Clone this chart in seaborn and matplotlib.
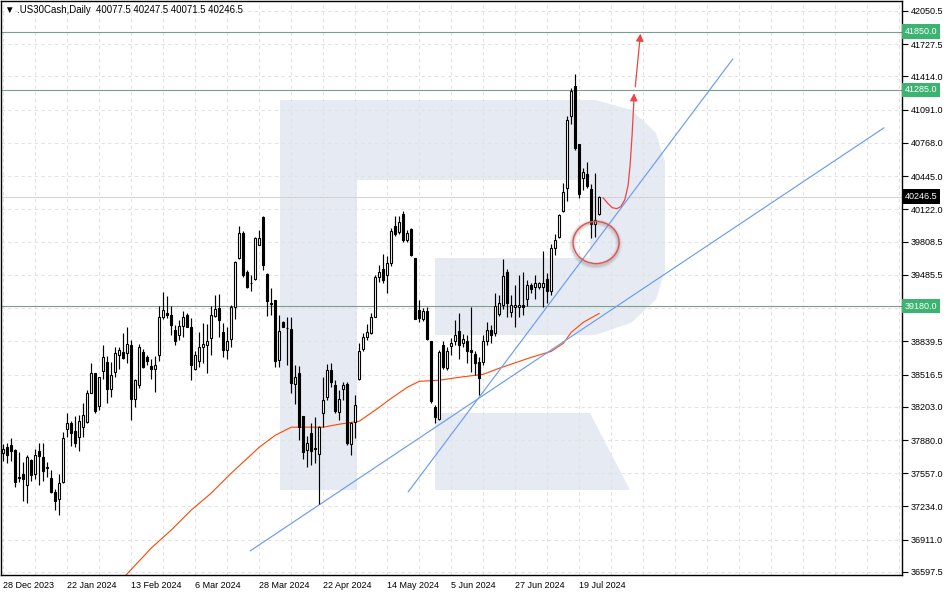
import numpy as np
import pandas as pd
import matplotlib
matplotlib.use('Agg')
import matplotlib.pyplot as plt
import matplotlib.transforms as mtransforms
from matplotlib.patches import Ellipse, Polygon, Rectangle
import seaborn as sns

# daily OHLC, .US30Cash, 28 Dec 2023 .. 26 Jul 2024
opens = [37753, 37811, 37830, 37782, 37520, 37549, 37442, 37685, 37549, 37772,
         37714, 37607, 37510, 37375, 37307, 37472, 37986, 38044, 37966, 37908,
         38005, 38054, 38335, 38529, 38209, 38548, 38636, 38374, 38539, 38704,
         38733, 38723, 38801, 38277, 38413, 38733, 38684, 38597, 38568, 38704,
         39072, 39111, 39092, 38946, 38898, 38985, 39092, 38975, 38568, 38645,
         38781, 38801, 38869, 39082, 39159, 38927, 38752, 38859, 39169, 39654,
         39897, 39518, 39402, 39441, 39780, 40052, 39489, 39208, 39237, 38655,
         39024, 38966, 38956, 38422, 38529, 38112, 37782, 37947, 37802, 37743,
         38141, 38296, 38558, 38413, 38151, 38374, 38422, 37840, 38054, 38471,
         38762, 38878, 38917, 39072, 39460, 39547, 39480, 39596, 39965, 39906,
         40081, 39829, 39936, 39654, 39140, 39053, 39130, 38839, 38199, 38083,
         38801, 38577, 38791, 38839, 38936, 38820, 38839, 38752, 38713, 38636,
         38636, 38839, 38946, 38917, 39101, 39189, 39518, 39121, 39169, 39169,
         39189, 39247, 39383, 39363, 39363, 39363, 39450, 39324, 39751, 39858,
         40110, 40333, 41032, 41323, 40760, 40430, 40469, 40323, 39984, 40077.5]
highs = [37840, 37850, 37898, 37792, 37763, 37666, 37734, 37695, 37792, 37850,
         37850, 37666, 37588, 37404, 37549, 37957, 38141, 38063, 38112, 38122,
         38238, 38364, 38626, 38529, 38490, 38801, 38694, 38636, 38781, 38781,
         38917, 38975, 38849, 38471, 38810, 38762, 38704, 38665, 38694, 39179,
         39315, 39276, 39179, 38995, 39043, 39130, 39111, 39063, 38742, 38927,
         39014, 39004, 39179, 39286, 39295, 39014, 38975, 39189, 39625, 39965,
         39916, 39528, 39480, 39858, 39926, 40062, 39499, 39353, 39237, 39092,
         39034, 39072, 39072, 38607, 38597, 38112, 37918, 38044, 38102, 38015,
         38490, 38616, 38626, 38461, 38364, 38442, 38442, 38054, 38316, 38820,
         38917, 39004, 39111, 39480, 39577, 39693, 39664, 39945, 40062, 40062,
         40110, 39926, 39945, 39654, 39237, 39159, 39169, 38839, 38219, 38752,
         38839, 38781, 38869, 39043, 39111, 38907, 38898, 39169, 38742, 38684,
         38898, 39024, 38995, 39305, 39286, 39635, 39538, 39286, 39383, 39480,
         39509, 39431, 39402, 39480, 39412, 39722, 39499, 39790, 39887, 40081,
         40382, 41032, 41303, 41439, 40760, 40527, 40585, 40372, 40479, 40247.5]
lows = [37675, 37656, 37675, 37423, 37472, 37287, 37268, 37481, 37501, 37442,
        37481, 37520, 37365, 37200, 37152, 37462, 37908, 37821, 37811, 37772,
        37908, 38044, 38335, 38141, 38170, 38471, 38238, 38296, 38490, 38568,
        38665, 38626, 38073, 38199, 38383, 38577, 38607, 38471, 38345, 38645,
        39053, 39062, 38898, 38801, 38849, 38878, 38975, 38461, 38558, 38587,
        38626, 38529, 38704, 39072, 38878, 38684, 38665, 38781, 39053, 39635,
        39460, 39353, 39324, 39431, 39771, 39528, 39082, 39092, 38587, 38587,
        38975, 38607, 38335, 38228, 37879, 37695, 37617, 37637, 37656, 37258,
        38005, 38267, 38393, 38141, 38073, 38267, 37831, 37734, 37898, 38461,
        38742, 38849, 38907, 39072, 39412, 39402, 39305, 39567, 39868, 39887,
        39809, 39809, 39664, 39053, 39024, 39034, 38849, 38238, 38044, 38073,
        38568, 38558, 38704, 38801, 38665, 38781, 38626, 38539, 38510, 38316,
        38607, 38801, 38820, 38888, 39082, 39150, 39072, 39072, 38975, 39072,
        39092, 39179, 39305, 39247, 39344, 39169, 39208, 39286, 39674, 39848,
        40100, 40207, 40954, 40702, 40236, 40314, 40333, 39848, 39858, 40071.5]
closes = [37792, 37734, 37772, 37472, 37510, 37501, 37714, 37540, 37734, 37724,
          37578, 37612, 37375, 37287, 37462, 37898, 38044, 37947, 37850, 38063,
          38122, 38335, 38529, 38160, 38490, 38684, 38374, 38510, 38723, 38752,
          38674, 38810, 38277, 38461, 38781, 38587, 38645, 38568, 38607, 39072,
          39140, 39092, 38995, 38839, 38985, 39072, 38975, 38607, 38704, 38781,
          38810, 38839, 39092, 39150, 39043, 38752, 38839, 39169, 39615, 39897,
          39480, 39363, 39407, 39848, 39848, 39577, 39227, 39198, 38645, 38936,
          38975, 38970, 38432, 38490, 38005, 37763, 37850, 37772, 37797, 38005,
          38267, 38558, 38442, 38160, 38277, 38413, 37850, 38044, 38219, 38742,
          38878, 38927, 39072, 39460, 39518, 39431, 39596, 39916, 39887, 40003,
          39829, 39897, 39674, 39053, 39063, 39130, 38859, 38257, 38102, 38733,
          38587, 38742, 38820, 38898, 38801, 38859, 38742, 38733, 38626, 38480,
          38839, 38946, 38898, 39179, 39208, 39470, 39208, 39189, 39189, 39189,
          39169, 39383, 39344, 39402, 39402, 39402, 39324, 39751, 39829, 40071,
          40294, 40993, 41274, 40721, 40275, 40488, 40352, 39984, 40023, 40246.5]

# moving average (orange line), sampled along its course
ma_bar = [30, 37, 42, 47, 52, 57, 64, 68, 72, 76, 80, 84, 89, 94, 97, 101, 104,
          109, 114, 120, 124, 132, 137, 140, 142, 145, 149]
ma_val = [36540, 36831, 37006, 37200, 37365, 37559, 37811, 37927, 38005, 38005,
          38005, 38034, 38063, 38199, 38286, 38393, 38451, 38461, 38490, 38519,
          38578, 38684, 38742, 38820, 38927, 39024, 39111]

# trend lines
trend1_bar = [101.2, 182.4]
trend1_val = [37375, 41584]
trend2_bar = [61.7, 220.2]
trend2_val = [36802, 40915]

# horizontal levels and last price
levels = [41850.0, 41285.0, 39180.0]
last_price = 40246.5

# forecast path (red) and second arrow
path_bar = [149.9, 151.2, 152.2, 153.4, 154.4, 155.4, 156.2, 156.7, 157.2, 157.6]
path_val = [40236, 40178, 40139, 40129, 40149, 40217, 40353, 40547, 40838, 41138]
tip1 = (157.7, 41250)
arrow2_from = (158.0, 41313)
arrow2_to = (159.3, 41830)

# circled zone
circle_center = (148.2, 39800)

ytick_vals = [42050.5, 41727.5, 41414.0, 41091.0, 40768.0, 40445.0, 40122.0,
              39808.5, 39485.5, 39162.5, 38839.5, 38516.5, 38203.0, 37880.0,
              37557.0, 37234.0, 36911.0, 36597.5]
xtick_bars = [0, 16, 32, 48, 64, 80, 96, 112, 128, 144]
xtick_labels = ['28 Dec 2023', '22 Jan 2024', '13 Feb 2024', '6 Mar 2024',
                '28 Mar 2024', '22 Apr 2024', '14 May 2024', '5 Jun 2024',
                '27 Jun 2024', '19 Jul 2024']

df = pd.DataFrame({'open': opens, 'high': highs, 'low': lows, 'close': closes})
df['bar'] = np.arange(len(df))
df['up'] = df['close'] >= df['open']

sns.set_style('white')
plt.rcParams['font.family'] = ['Liberation Sans', 'DejaVu Sans']

fig = plt.figure(figsize=(9.48, 5.95), dpi=100)
ax = fig.add_axes([1 / 948, 20 / 595, 901 / 948, 574 / 595])
ax.set_xlim(-0.6, 224.7)
ax.set_ylim(36568, 42147.5)

# watermark logo (axes fractions)
wm = '#e6ebf3'
ax.add_patch(Rectangle((0.3097, 0.1481), 0.0854, 0.6794, transform=ax.transAxes,
                       fc=wm, ec='none', zorder=0))
bowl = [(0.3951, 0.8275), (0.66, 0.8275), (0.70, 0.81), (0.727, 0.77), (0.737, 0.72),
        (0.737, 0.53), (0.727, 0.48), (0.70, 0.44), (0.66, 0.4181), (0.4817, 0.4181),
        (0.4817, 0.5523), (0.6537, 0.5523), (0.6537, 0.6882), (0.3951, 0.6882)]
ax.add_patch(Polygon(bowl, closed=True, transform=ax.transAxes, fc=wm, ec='none', zorder=0))
leg = [(0.4817, 0.2822), (0.6537, 0.2822), (0.6981, 0.1481), (0.4817, 0.1481)]
ax.add_patch(Polygon(leg, closed=True, transform=ax.transAxes, fc=wm, ec='none', zorder=0))

# grid
for b in range(0, 225, 8):
    ax.axvline(b, color='#e2e2e2', lw=0.8, ls=(0, (3, 3)), zorder=0.5)
for v in ytick_vals:
    ax.axhline(v, color='#e2e2e2', lw=0.8, ls=(0, (3, 3)), zorder=0.5)

# levels
for lv in levels:
    ax.axhline(lv, color='#7a9f8c', lw=0.8, zorder=1)
ax.axhline(last_price, color='#d2d2d2', lw=0.7, zorder=1)

# moving average and trend lines
sns.lineplot(x=ma_bar, y=ma_val, color='#ff4500', lw=0.8, ax=ax, zorder=2)
ax.plot(trend1_bar, trend1_val, color='#6b9cf0', lw=0.85, zorder=2)
ax.plot(trend2_bar, trend2_val, color='#6b9cf0', lw=0.85, zorder=2)

# candles
ax.vlines(df['bar'], df['low'], df['high'], color='black', lw=0.85, zorder=3)
body_low = df[['open', 'close']].min(axis=1)
body_h = (df['close'] - df['open']).abs().clip(lower=6)
ax.bar(df['bar'], body_h, bottom=body_low, width=0.5,
       color=np.where(df['up'], 'white', 'black'), edgecolor='black', lw=0.8, zorder=4)

# circle with soft shadow
for lw_, a_ in [(5, 0.08), (3.5, 0.12), (2, 0.2)]:
    ax.add_patch(Ellipse((circle_center[0] - 0.1, circle_center[1] - 15), 11.6, 420,
                         fill=False, ec='#808080', lw=lw_, alpha=a_, zorder=5))
ax.add_patch(Ellipse(circle_center, 11.5, 410, fill=False, ec='#e8504a', lw=1.0, zorder=6))

# forecast arrows
red = '#ee4444'
ax.plot(path_bar, path_val, color=red, lw=0.9, zorder=6)
ax.annotate('', xy=tip1, xytext=(path_bar[-1], path_val[-1]),
            arrowprops=dict(arrowstyle='-|>', color=red, lw=0.9, mutation_scale=11,
                            shrinkA=0, shrinkB=0), zorder=6)
ax.annotate('', xy=arrow2_to, xytext=arrow2_from,
            arrowprops=dict(arrowstyle='-|>', color=red, lw=0.9, mutation_scale=11,
                            shrinkA=0, shrinkB=0), zorder=6)

# axes and ticks
for s in ax.spines.values():
    s.set_color('black')
    s.set_linewidth(1)
ax.set_xticks(xtick_bars)
ax.set_xticklabels(xtick_labels, ha='left')
ax.yaxis.tick_right()
ax.set_yticks(ytick_vals)
ax.set_yticklabels(['' if v == 39162.5 else f'{v:.1f}' for v in ytick_vals])
ax.tick_params(axis='x', length=4, width=0.8, pad=0.5, labelsize=6.5, colors='black')
ax.tick_params(axis='y', length=4, width=0.8, pad=2, labelsize=6.5, colors='black')
ax.set_xlabel('')
ax.set_ylabel('')

# price tags on the right scale
blend = mtransforms.blended_transform_factory(ax.transAxes, ax.transData)
for lv in levels:
    ax.text(1.0035, lv, f'{lv:.1f}', transform=blend, ha='left', va='center',
            fontsize=6.5, color='white', zorder=10, clip_on=False,
            bbox=dict(boxstyle='square,pad=0.3', fc='#3cb371', ec='none'))
ax.text(1.0035, last_price, f'{last_price:.1f}', transform=blend, ha='left', va='center',
        fontsize=6.5, color='white', zorder=10, clip_on=False,
        bbox=dict(boxstyle='square,pad=0.3', fc='black', ec='none'))

ax.text(0.004, 0.993, '\u25bc .US30Cash,Daily  40077.5 40247.5 40071.5 40246.5',
        transform=ax.transAxes, ha='left', va='top', fontsize=6.9, color='black',
        family=['Liberation Sans', 'DejaVu Sans'], zorder=10)

fig.savefig('out.png', dpi=100)
